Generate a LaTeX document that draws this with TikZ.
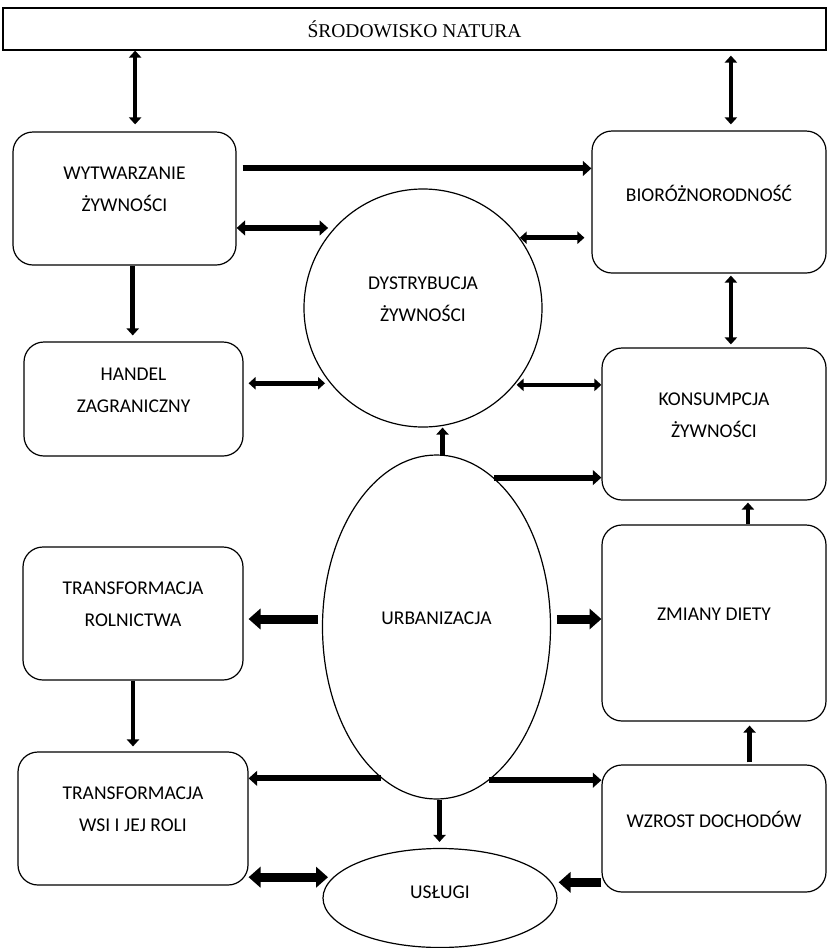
\documentclass[tikz,border=0pt]{standalone}
\usepackage{fontspec}
\setmainfont{Carlito}
\newfontfamily\serifnat{Liberation Serif}
\usetikzlibrary{arrows.meta,shapes.geometric}

\begin{document}
\begin{tikzpicture}[x=1pt, y=-1pt,
    >={Triangle[length=2pt 1.1,width=4pt 1.8]},
    every node/.style={line width=1.2pt, align=center, font=\fontsize{19.5}{32}\selectfont},
    blok/.style={draw, rounded corners=20pt, text depth=18pt},
    owal/.style={draw, text depth=18pt},
    link/.style={line width=4.5pt},
    boldlink/.style={line width=6pt},
    heavylink/.style={line width=9pt}]
  \useasboundingbox (0,0) rectangle (827,948);

  \node[draw, minimum width=823pt, minimum height=42pt,
        font=\serifnat\fontsize{19.5}{22}\selectfont] (nat) at (414.5,29) {ŚRODOWISKO NATURA};
  \node[blok, minimum width=223pt, minimum height=133pt] (wyt) at (124.5,198.5) {WYTWARZANIE\\ŻYWNOŚCI};
  \node[blok, minimum width=234pt, minimum height=142pt] (bio) at (709,202) {BIORÓŻNORODNOŚĆ};
  \node[owal, circle, minimum size=238pt] (dys) at (423,308) {DYSTRYBUCJA\\ŻYWNOŚCI};
  \node[blok, minimum width=219pt, minimum height=114pt] (han) at (133.5,399) {HANDEL\\ZAGRANICZNY};
  \node[blok, minimum width=224pt, minimum height=152pt] (kon) at (714,424) {KONSUMPCJA\\ŻYWNOŚCI};
  \node[owal, ellipse, minimum width=228pt, minimum height=344pt] (urb) at (436.5,627) {URBANIZACJA};
  \node[blok, minimum width=220pt, minimum height=133pt] (rol) at (133,613.5) {TRANSFORMACJA\\ROLNICTWA};
  \node[blok, minimum width=224pt, minimum height=196pt] (die) at (714,623) {ZMIANY DIETY};
  \node[blok, minimum width=230pt, minimum height=133pt] (wsi) at (133,818.5) {TRANSFORMACJA\\WSI I JEJ ROLI};
  \node[blok, minimum width=224pt, minimum height=127pt] (wzr) at (714,828.5) {WZROST DOCHODÓW};
  \node[owal, ellipse, text depth=12pt, minimum width=234pt, minimum height=99pt] (usl) at (440,898) {USŁUGI};

  % to the environment
  \draw[link,<->,shorten <=7pt] (wyt.81) -- (wyt.81 |- nat.south);
  \draw[link,<->,shorten <=6pt,shorten >=5pt] (bio.73.5) -- (bio.73.5 |- nat.south);
  % upper part
  \draw[boldlink,->,shorten <=6pt] (wyt.15.3) -- (wyt.15.3 -| bio.west);
  \draw[boldlink,<->,shorten <=6pt] (dys.138.4) -- (dys.138.4 -| wyt.east);
  \draw[link,<->,shorten >=7pt] (dys.36.6) -- (dys.36.6 -| bio.west);
  \draw[link,->,shorten >=6pt] (wyt.277.3) -- (wyt.277.3 |- han.north);
  \draw[link,<->,shorten <=2pt,shorten >=3pt] (bio.287.9) -- (bio.287.9 |- kon.north);
  \draw[link,<->,shorten <=5pt,shorten >=5pt] (dys.219.1) -- (dys.219.1 -| han.east);
  \draw[link,<->,shorten <=2pt] (dys.320.9) -- (dys.320.9 -| kon.west);
  % urbanizacja
  \draw[link,->] (urb.88.2) -- (urb.88.2 |- dys.south);
  \draw[boldlink,->] (urb.69.1) -- (urb.69.1 -| kon.west);
  \draw[heavylink,->,shorten <=4pt,shorten >=5pt] (urb.176) -- (urb.176 -| rol.east);
  \draw[heavylink,->,shorten <=6pt] (urb.4) -- (urb.4 -| die.west);
  \draw[boldlink,->] (urb.250.6) -- (urb.250.6 -| wsi.east);
  \draw[boldlink,->] (urb.289.4) -- (urb.289.4 -| wzr.west);
  \draw[link,->,shorten >=6pt] (urb.271.8) -- (urb.271.8 |- usl.north);
  % lower part
  \draw[link,->,shorten >=5pt] (rol.south) -- (wsi.north);
  \draw[link,->,shorten >=2pt] (die.71.4) -- (die.71.4 |- kon.south);
  \draw[link,->,shorten <=2pt,shorten >=4pt] (wzr.61.8) -- (wzr.61.8 |- die.south);
  \draw[heavylink,<->,shorten <=5pt] (usl.169.4) -- (usl.169.4 -| wsi.east);
  \draw[heavylink,->,shorten >=7pt] (usl.8.2 -| wzr.west) -- (usl.8.2);
\end{tikzpicture}
\end{document}
